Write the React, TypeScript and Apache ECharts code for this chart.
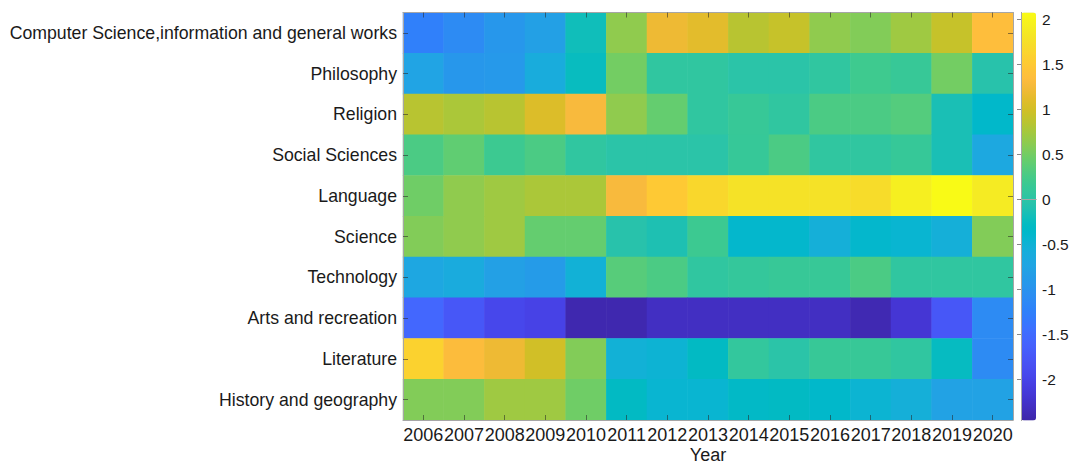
import React, { useEffect, useRef } from "react";
import * as echarts from "echarts";

const years = ["2006", "2007", "2008", "2009", "2010", "2011", "2012", "2013", "2014", "2015", "2016", "2017", "2018", "2019", "2020"];
const subjects = [
  "Computer Science,information and general works",
  "Philosophy",
  "Religion",
  "Social Sciences",
  "Language",
  "Science",
  "Technology",
  "Arts and recreation",
  "Literature",
  "History and geography",
];

const computerScience = [-1.25, -1.1, -0.95, -0.8, -0.2, 0.64, 1.2, 1.12, 0.85, 0.93, 0.64, 0.57, 0.72, 0.93, 1.36];
const philosophy = [-0.75, -0.95, -0.92, -0.6, -0.25, 0.5, 0.05, 0.05, -0.02, -0.02, 0.05, 0.2, 0.13, 0.5, -0.05];
const religion = [0.85, 0.78, 0.85, 1.07, 1.29, 0.64, 0.42, 0.05, 0.13, 0.05, 0.28, 0.28, 0.33, -0.15, -0.37];
const socialSciences = [0.28, 0.4, 0.18, 0.28, 0.05, -0.02, -0.02, -0.02, 0.12, 0.28, 0.05, 0.05, 0.12, -0.15, -0.67];
const language = [0.48, 0.64, 0.72, 0.78, 0.78, 1.29, 1.5, 1.66, 1.78, 1.78, 1.78, 1.72, 1.93, 2.07, 1.88];
const science = [0.57, 0.64, 0.72, 0.42, 0.42, -0.05, -0.12, 0.18, -0.4, -0.4, -0.55, -0.4, -0.45, -0.55, 0.57];
const technology = [-0.7, -0.62, -0.8, -0.87, -0.52, 0.35, 0.28, 0.05, 0.1, 0.13, 0.13, 0.28, 0.05, 0.05, 0.05];
const artsRecreation = [-1.55, -1.75, -1.96, -2.02, -2.42, -2.42, -2.3, -2.3, -2.3, -2.3, -2.3, -2.4, -2.18, -1.75, -1.1];
const literature = [1.6, 1.33, 1.2, 1.0, 0.57, -0.52, -0.48, -0.3, 0.08, -0.02, 0.13, 0.13, 0.05, -0.27, -1.1];
const historyGeography = [0.57, 0.57, 0.72, 0.72, 0.48, -0.3, -0.45, -0.45, -0.33, -0.3, -0.37, -0.47, -0.55, -0.78, -0.78];

const rows = [computerScience, philosophy, religion, socialSciences, language, science, technology, artsRecreation, literature, historyGeography];

const colorbarTicks = [-2, -1.5, -1, -0.5, 0, 0.5, 1, 1.5, 2];
const cMin = -2.46;
const cMax = 2.078;

const parula: number[][] = [
  [0.2422, 0.1504, 0.6603], [0.2504, 0.165, 0.7076], [0.2578, 0.1818, 0.7511], [0.2647, 0.1978, 0.7952],
  [0.2706, 0.2147, 0.8364], [0.2751, 0.2342, 0.871], [0.2783, 0.2559, 0.8991], [0.2803, 0.2782, 0.9221],
  [0.2813, 0.3006, 0.9414], [0.281, 0.3228, 0.9579], [0.2795, 0.3447, 0.9717], [0.276, 0.3667, 0.9829],
  [0.2699, 0.3892, 0.9906], [0.2602, 0.4123, 0.9952], [0.244, 0.4358, 0.9988], [0.2206, 0.4603, 0.9973],
  [0.1963, 0.4847, 0.9892], [0.1834, 0.5074, 0.9798], [0.1786, 0.5289, 0.9682], [0.1764, 0.5499, 0.952],
  [0.1687, 0.5703, 0.9359], [0.154, 0.5902, 0.9218], [0.146, 0.6091, 0.9079], [0.138, 0.6276, 0.8973],
  [0.1248, 0.6459, 0.8883], [0.1113, 0.6635, 0.8763], [0.0952, 0.6798, 0.8598], [0.0689, 0.6948, 0.8394],
  [0.0297, 0.7082, 0.8163], [0.0036, 0.7203, 0.7917], [0.0067, 0.7312, 0.766], [0.0433, 0.7411, 0.7394],
  [0.0964, 0.75, 0.712], [0.1408, 0.7584, 0.6842], [0.1717, 0.767, 0.6554], [0.1938, 0.7758, 0.6251],
  [0.2161, 0.7843, 0.5923], [0.247, 0.7918, 0.5567], [0.2906, 0.7973, 0.5188], [0.3406, 0.8008, 0.4789],
  [0.3909, 0.8029, 0.4354], [0.4456, 0.8024, 0.3909], [0.5044, 0.7993, 0.348], [0.5616, 0.7942, 0.3045],
  [0.6174, 0.7876, 0.2612], [0.672, 0.7793, 0.2227], [0.7242, 0.7698, 0.191], [0.7738, 0.7598, 0.1646],
  [0.8203, 0.7498, 0.1535], [0.8634, 0.7406, 0.1596], [0.9035, 0.733, 0.1774], [0.9393, 0.7288, 0.21],
  [0.9728, 0.7298, 0.2394], [0.9956, 0.7434, 0.2371], [0.997, 0.7659, 0.2199], [0.9952, 0.7893, 0.2028],
  [0.9892, 0.8136, 0.1885], [0.9786, 0.8386, 0.1766], [0.9676, 0.8639, 0.1643], [0.961, 0.889, 0.1537],
  [0.9597, 0.9135, 0.1423], [0.9628, 0.9373, 0.1265], [0.9691, 0.9606, 0.1064], [0.9769, 0.9839, 0.0805],
];
const parulaColors = parula.map(
  (c) => `rgb(${Math.round(c[0] * 255)},${Math.round(c[1] * 255)},${Math.round(c[2] * 255)})`
);

const FONT = "'Liberation Sans', Arial, Helvetica, sans-serif";
const TEXT = "#1a1a1a";
const BOX = "#a6a6a6";
const TICK = "rgba(38,38,38,0.55)";

export default function App() {
  const ref = useRef<HTMLDivElement>(null);
  useEffect(() => {
    if (!ref.current) return;
    const chart = echarts.init(ref.current, undefined, { renderer: "svg" });
    const data: number[][] = [];
    rows.forEach((row, yi) => row.forEach((v, xi) => data.push([xi, yi, v])));

    const catX = (pos: "top" | "bottom", labels: boolean) => ({
      type: "category",
      gridIndex: 0,
      data: years,
      position: pos,
      z: 10,
      axisLine: { show: true, lineStyle: { color: BOX, width: 1 } },
      axisTick: { show: true, inside: true, alignWithLabel: true, interval: 0, length: 5, lineStyle: { color: TICK } },
      axisLabel: { show: labels, interval: 0, fontSize: 18, lineHeight: 16, color: TEXT, fontFamily: FONT, margin: 7 },
      splitLine: { show: false },
      ...(labels
        ? {
            name: "Year",
            nameLocation: "middle",
            nameGap: 26.5,
            nameMoveOverlap: false,
            nameTextStyle: { fontSize: 18, lineHeight: 16, color: TEXT, fontFamily: FONT },
          }
        : {}),
    });
    const catY = (pos: "left" | "right", labels: boolean) => ({
      type: "category",
      gridIndex: 0,
      data: subjects,
      inverse: true,
      position: pos,
      z: 10,
      axisLine: { show: true, lineStyle: { color: BOX, width: 1 } },
      axisTick: { show: true, inside: true, alignWithLabel: true, interval: 0, length: 5, lineStyle: { color: TICK } },
      axisLabel: { show: labels, interval: 0, fontSize: 17.7, color: TEXT, fontFamily: FONT, margin: 6 },
      splitLine: { show: false },
    });
    const cbAxisLine = { show: true, lineStyle: { color: BOX, width: 1 } };

    chart.setOption({
      animation: false,
      backgroundColor: "#ffffff",
      grid: [
        { left: 403, top: 12.5, width: 610, height: 407.5, outerBoundsMode: "none", containLabel: false },
        { left: 1021, top: 12.5, width: 15, height: 408, outerBoundsMode: "none", containLabel: false },
      ],
      xAxis: [
        catX("bottom", true),
        catX("top", false),
        { type: "value", gridIndex: 1, position: "bottom", z: 10, axisLine: cbAxisLine, axisTick: { show: false }, axisLabel: { show: false }, splitLine: { show: false } },
        { type: "value", gridIndex: 1, position: "top", z: 10, axisLine: cbAxisLine, axisTick: { show: false }, axisLabel: { show: false }, splitLine: { show: false } },
      ],
      yAxis: [
        catY("left", true),
        catY("right", false),
        {
          type: "value",
          gridIndex: 1,
          position: "right",
          min: cMin,
          max: cMax,
          z: 10,
          axisLine: cbAxisLine,
          axisTick: { show: true, inside: true, length: 4, lineStyle: { color: TICK }, customValues: colorbarTicks },
          axisLabel: { show: true, fontSize: 15.5, color: TEXT, fontFamily: FONT, margin: 6, customValues: colorbarTicks },
          splitLine: { show: false },
        },
        {
          type: "value",
          gridIndex: 1,
          position: "left",
          min: cMin,
          max: cMax,
          z: 10,
          axisLine: cbAxisLine,
          axisTick: { show: false },
          axisLabel: { show: false },
          splitLine: { show: false },
        },
      ],
      visualMap: {
        type: "continuous",
        seriesIndex: 0,
        min: cMin,
        max: cMax,
        calculable: false,
        show: true,
        left: 1021,
        top: 12.5,
        itemWidth: 15,
        itemHeight: 408,
        padding: 0,
        inRange: { color: parulaColors },
      },
      series: [
        {
          type: "heatmap",
          xAxisIndex: 0,
          yAxisIndex: 0,
          data,
          itemStyle: { borderWidth: 0 },
          emphasis: { disabled: true },
        },
      ],
    });
    return () => chart.dispose();
  }, []);
  return <div ref={ref} style={{ position: "fixed", left: 0, top: 0, width: 1071, height: 463 }} />;
}
